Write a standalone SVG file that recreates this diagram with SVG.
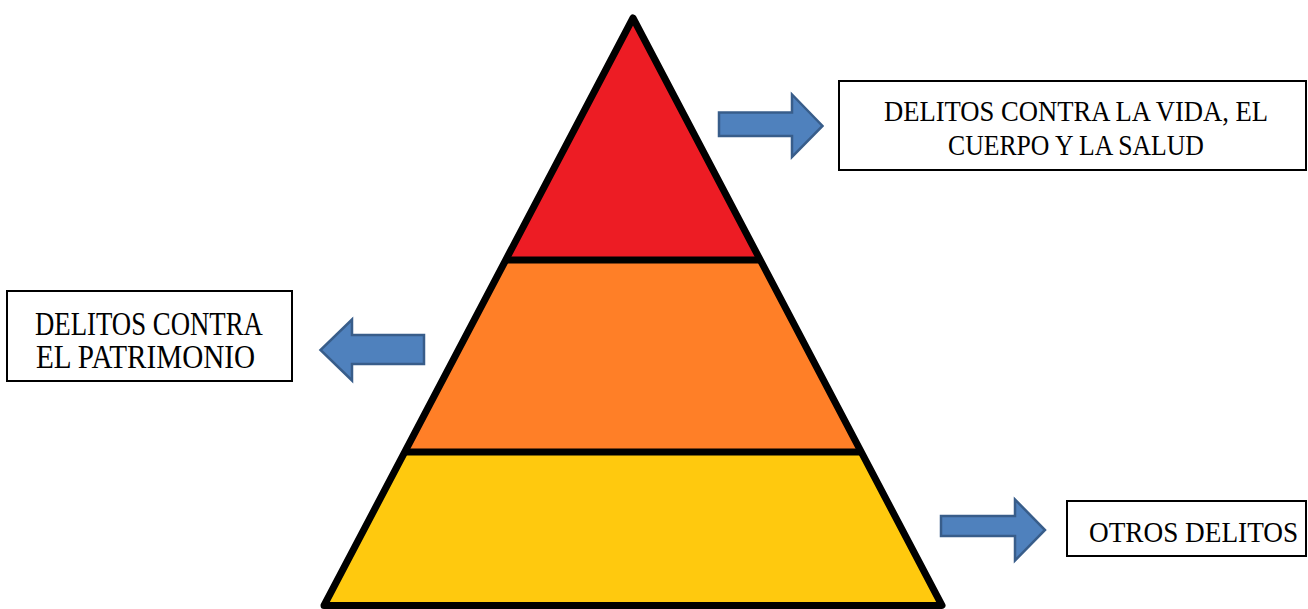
<svg xmlns="http://www.w3.org/2000/svg" width="1308" height="609" viewBox="0 0 1308 609">
<style>
.edge{fill:none;stroke:#000;stroke-width:7;stroke-linejoin:round}
.band{stroke:#000;stroke-width:7}
.box{fill:#fff;stroke:#000;stroke-width:2}
.arrow{fill:#4F81BD;stroke:#385D8A;stroke-width:2.5;stroke-linejoin:miter}
.lbl{font-family:"Liberation Serif","Times New Roman",serif;fill:#000}
</style>
<rect width="1308" height="609" fill="#fff"/>
<g id="pyramid">
<g id="level-top"><polygon points="633,18 505.7,260 760.3,260" fill="#ED1C24"/></g>
<g id="level-middle"><polygon points="505.7,260 760.3,260 861.3,452 404.7,452" fill="#FF7F27"/></g>
<g id="level-bottom"><polygon points="404.7,452 861.3,452 942,605.5 324,605.5" fill="#FFC90E"/></g>
<line class="band" x1="505.7" y1="260" x2="760.3" y2="260"/>
<line class="band" x1="404.7" y1="452" x2="861.3" y2="452"/>
<polygon class="edge" points="633,18 942,605.5 324,605.5"/>
</g>
<g id="connectors">
<path class="arrow" d="M719,112.5 L792,112.5 L792,94.5 L822.5,126 L792,157 L792,136 L719,136 Z"/>
<path class="arrow" d="M424,335 L352,335 L352,319.5 L320.5,350 L352,380.5 L352,364 L424,364 Z"/>
<path class="arrow" d="M941,516 L1015,516 L1015,499.5 L1045,530 L1015,560.5 L1015,536 L941,536 Z"/>
</g>
<g id="box-vida">
<rect class="box" x="839" y="81" width="467" height="89"/>
<text class="lbl" transform="translate(884,121) scale(0.879,1)" font-size="30" textLength="437" lengthAdjust="spacingAndGlyphs">DELITOS CONTRA LA VIDA, EL</text>
<text class="lbl" transform="translate(948,155) scale(0.846,1)" font-size="30" textLength="302.5" lengthAdjust="spacingAndGlyphs">CUERPO Y LA SALUD</text>
</g>
<g id="box-patrimonio">
<rect class="box" x="7" y="291" width="285" height="90"/>
<text class="lbl" transform="translate(35,335) scale(0.811,1)" font-size="33" textLength="281" lengthAdjust="spacingAndGlyphs">DELITOS CONTRA</text>
<text class="lbl" transform="translate(36,368) scale(0.759,1)" font-size="33" textLength="288.7" lengthAdjust="spacingAndGlyphs">EL PATRIMONIO</text>
</g>
<g id="box-otros">
<rect class="box" x="1067" y="501" width="239" height="55"/>
<text class="lbl" transform="translate(1089,542) scale(0.906,1)" font-size="30" textLength="230.8" lengthAdjust="spacingAndGlyphs">OTROS DELITOS</text>
</g>
</svg>
